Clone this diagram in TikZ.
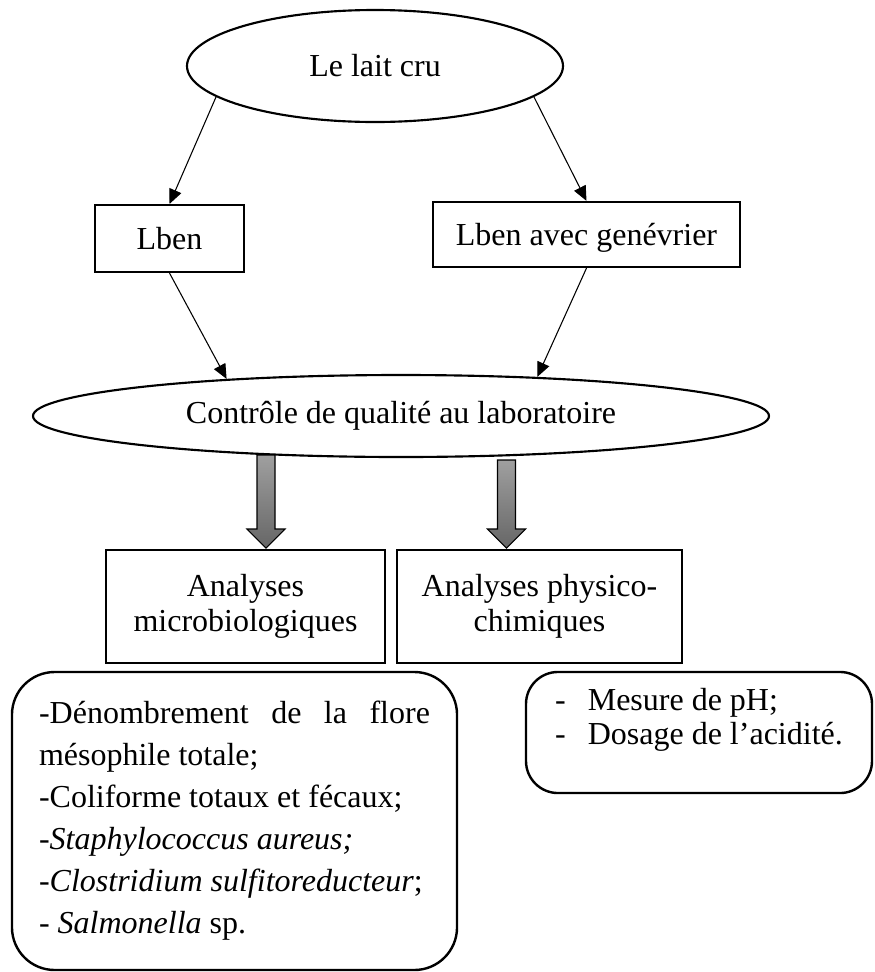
\documentclass[tikz,border=0pt]{standalone}
\usepackage{fontspec}
\setmainfont{Liberation Serif}
\usepackage{tikz}
\usetikzlibrary{positioning, arrows.meta, shapes.geometric}
\hyphenpenalty=10000
\tolerance=9999

\begin{document}
\begin{tikzpicture}[x=0.375pt,y=-0.375pt,
  font=\fontsize{12}{13.1}\selectfont,
  oval/.style={ellipse,draw,line width=0.8pt,inner sep=0pt},
  box/.style={rectangle,draw,line width=0.8pt,inner sep=0pt,align=center},
  oneline/.style={text height=8.5pt,text depth=0pt},
  listbox/.style={rectangle,draw,line width=0.9pt,rounded corners=#1,inner sep=0pt},
  link/.style={-{Triangle[length=5.5pt,width=4.8pt]},line width=0.4pt}]
\useasboundingbox (0,0) rectangle (874,972);
\node[oval,minimum width=141pt,minimum height=42pt] (milk) at (375,66) {Le lait cru};
\node[box,oneline,minimum width=55.9pt,minimum height=25.1pt] (lben) at (169.5,238.5) {Lben};
\node[box,oneline,minimum width=115.1pt,minimum height=24.4pt] (genev) at (586.5,234.5) {Lben avec genévrier};
\node[oval,minimum width=276pt,minimum height=30.75pt] (ctrl) at (401,416) {Contrôle de qualité au laboratoire};
\node[box,minimum width=104.6pt,minimum height=42.4pt] (micro) at (245.5,606.5) {Analyses\\microbiologiques};
\node[box,minimum width=106.9pt,minimum height=42.4pt] (physico) at (539.5,606.5) {Analyses physico-\\chimiques};
\node[listbox=16pt,minimum width=166.9pt,minimum height=111.75pt,text width=146.6pt,align=justify,
  font=\fontsize{12}{15.75}\selectfont] (microlist) at (234.5,821)
  {-Dénombrement de la flore mésophile totale;\\-Coliforme totaux et fécaux;\\-\textit{Staphylococcus aureus;}\\-\textit{Clostridium sulfitoreducteur};\\- \textit{Salmonella} sp.};
\node[listbox=12pt,minimum width=129.75pt,minimum height=45.4pt] (physlist) at (699,732.5)
  {\begin{tabular}{@{}l@{\hspace{8.25pt}}l@{}}-&Mesure de pH;\\-&Dosage de l’acidité.\\[9pt]\end{tabular}};

\draw[link] (milk.191.6) -- (lben.north);
\draw[link] (milk.349) -- (genev.north);
\draw[link] (lben.south) -- (ctrl.168.2);
\draw[link] (genev.south) -- (ctrl.16.6);

\foreach \x/\t in {266/455,506.5/460}
  \shadedraw[line width=0.4pt,top color=gray!75,bottom color=gray!80!black]
    (\x-9,\t) -- (\x-9,529) -- (\x-19,529) -- (\x,548) -- (\x+19,529) -- (\x+9,529) -- (\x+9,\t) -- cycle;
\end{tikzpicture}
\end{document}
